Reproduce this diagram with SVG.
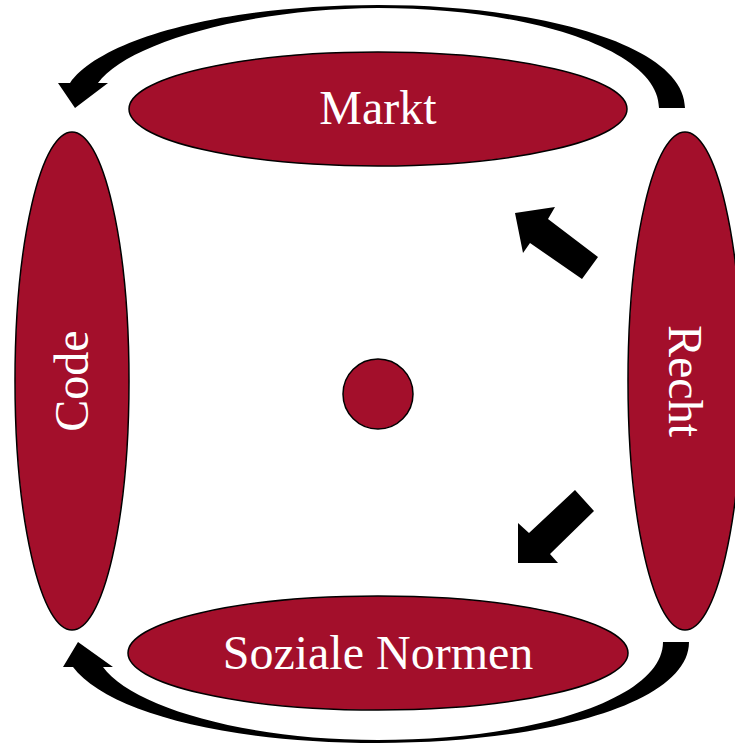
<svg xmlns="http://www.w3.org/2000/svg" width="735" height="747" viewBox="0 0 735 747">
<style>
.n{fill:#A30F2B;stroke:#000;stroke-width:1.5}
.t{fill:#fff;font-family:"Liberation Serif","Times New Roman",serif;font-size:48px;text-anchor:middle}
.a{fill:#000;stroke:none}
</style>
<rect width="735" height="747" fill="#fff"/>
<g id="connectors">
<path class="a" d="M685,108 C685,45 540,5 378,5 C220,5 100,40 70,83 L58,83 L75,108 L108,83 L98,83 C125,45 240,9 378,8 C530,8 659,50 659,108 Z"/>
<path class="a" d="M689,642 C689,705 540,743 378,743 C220,743 105,710 73,667 L63,667 L78,642 L113,667 L103,667 C130,705 240,740 378,740 C530,740 663,700 663,642 Z"/>
<path class="a" d="M515,213 L555,207 L548,219 L598,257 L582,279 L530,243 L523,253 Z"/>
<path class="a" d="M518,563 L518,523 L529,533 L575,490 L594,511 L550,554 L558,563 Z"/>
</g>
<g id="markt">
<ellipse class="n" cx="378" cy="109" rx="249" ry="57"/>
<text class="t" x="378" y="124">Markt</text>
</g>
<g id="soziale-normen">
<ellipse class="n" cx="378" cy="653" rx="250" ry="57"/>
<text class="t" x="378" y="669">Soziale Normen</text>
</g>
<g id="code">
<ellipse class="n" cx="72" cy="381" rx="57" ry="249"/>
<text class="t" transform="translate(88,381) rotate(-90)">Code</text>
</g>
<g id="recht">
<ellipse class="n" cx="685" cy="381" rx="57" ry="249"/>
<text class="t" transform="translate(669,381) rotate(90)">Recht</text>
</g>
<g id="center">
<circle class="n" cx="378" cy="394" r="35"/>
</g>
</svg>
